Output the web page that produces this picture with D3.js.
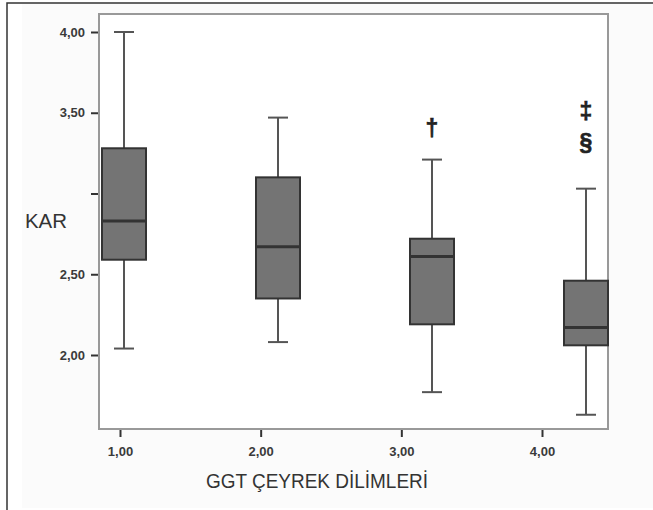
<html>
<head>
  <script src="https://cdn.jsdelivr.net/npm/d3@7"></script>
  <meta charset="UTF-8">
  <style>
  body {
    margin: 0;
    background: #fff;
    font-family: "Liberation Sans", Arial, sans-serif;
  }
  </style>
</head>
<body>
<div id="chart"></div>
<script>

// group labels (GGT quartiles) and box statistics for KAR
const categories = ['1,00', '2,00', '3,00', '4,00'];
const groups = [1, 2, 3, 4];
const whiskerLow = [2.04, 2.08, 1.77, 1.63];
const q1 = [2.59, 2.35, 2.19, 2.06];
const median = [2.83, 2.67, 2.61, 2.17];
const q3 = [3.28, 3.10, 2.72, 2.46];
const whiskerHigh = [4.00, 3.47, 3.21, 3.03];
const marks = [[], [], ['†'], ['‡', '§']];
const yTicks = [2.00, 2.50, 3.00, 3.50, 4.00];
const yTickLabels = ['2,00', '2,50', '', '3,50', '4,00'];

const width = 653, height = 510;
const frame = {left: 99, right: 608, top: 14, bottom: 429};

const svg = d3.select('#chart').append('svg')
  .attr('width', width)
  .attr('height', height);

// outer border + faint panel
svg.append('rect')
  .attr('x', 22).attr('y', 4)
  .attr('width', width - 22).attr('height', 504)
  .attr('fill', '#fbfbfb');
svg.append('rect')
  .attr('x', 7).attr('y', 3)
  .attr('width', width + 5).attr('height', height + 5)
  .attr('fill', 'none')
  .attr('stroke', '#333')
  .attr('stroke-width', 1.5);

const y = d3.scaleLinear()
  .domain([4 + 18 / 161.5, 2 - 74 / 161.5])
  .range([frame.top, frame.bottom]);

// axis ticks and boxes sit on slightly different spacings in the original figure
const xAxisScale = d3.scaleLinear().domain([1, 4]).range([120, 542]);
const xBox = d3.scaleLinear().domain([1, 4]).range([124, 586]);
const boxW = 44, capW = 20;

// plot frame
svg.append('rect')
  .attr('x', frame.left).attr('y', frame.top)
  .attr('width', frame.right - frame.left)
  .attr('height', frame.bottom - frame.top)
  .attr('fill', '#fff')
  .attr('stroke', '#999')
  .attr('stroke-width', 2);

// y axis
const yAxis = svg.append('g')
  .attr('transform', `translate(${frame.left - 1},0)`)
  .call(d3.axisLeft(y).tickValues(yTicks).tickSize(7).tickPadding(6)
    .tickFormat((d, i) => yTickLabels[i]));
yAxis.select('.domain').remove();
yAxis.selectAll('.tick line').attr('stroke', '#333').attr('stroke-width', 2);
yAxis.selectAll('.tick text')
  .attr('fill', '#3a3a3a')
  .style('font-size', '13px')
  .style('font-weight', 'bold');

// x axis
const xAxis = svg.append('g')
  .attr('transform', `translate(0,${frame.bottom + 1})`)
  .call(d3.axisBottom(xAxisScale).tickValues(groups).tickSize(7).tickPadding(10)
    .tickFormat((d, i) => categories[i]));
xAxis.select('.domain').remove();
xAxis.selectAll('.tick line').attr('stroke', '#333').attr('stroke-width', 2);
xAxis.selectAll('.tick text')
  .attr('fill', '#3a3a3a')
  .style('font-size', '13px')
  .style('font-weight', 'bold');

// boxes
const boxes = svg.append('g').selectAll('g')
  .data(groups)
  .join('g');

boxes.append('line')
  .attr('x1', (d) => xBox(d)).attr('x2', (d) => xBox(d))
  .attr('y1', (d, i) => y(whiskerHigh[i]))
  .attr('y2', (d, i) => y(whiskerLow[i]))
  .attr('stroke', '#555').attr('stroke-width', 2);

for (const arr of [whiskerHigh, whiskerLow]) {
  boxes.append('line')
    .attr('x1', (d) => xBox(d) - capW / 2).attr('x2', (d) => xBox(d) + capW / 2)
    .attr('y1', (d, i) => y(arr[i])).attr('y2', (d, i) => y(arr[i]))
    .attr('stroke', '#555').attr('stroke-width', 2);
}

boxes.append('rect')
  .attr('x', (d) => xBox(d) - boxW / 2)
  .attr('y', (d, i) => y(q3[i]))
  .attr('width', boxW)
  .attr('height', (d, i) => y(q1[i]) - y(q3[i]))
  .attr('fill', '#747474')
  .attr('stroke', '#333')
  .attr('stroke-width', 2);

boxes.append('line')
  .attr('x1', (d) => xBox(d) - boxW / 2 + 1).attr('x2', (d) => xBox(d) + boxW / 2 - 1)
  .attr('y1', (d, i) => y(median[i])).attr('y2', (d, i) => y(median[i]))
  .attr('stroke', '#333').attr('stroke-width', 3);

// significance marks above the upper whisker
boxes.each(function(d, i) {
  const n = marks[i].length;
  const base = y(whiskerHigh[i]) - 30 - 15 * (n - 1);
  d3.select(this).selectAll('text.mark')
    .data(marks[i])
    .join('text')
      .attr('class', 'mark')
      .attr('x', xBox(d))
      .attr('y', (m, j) => base - 31 * (n - 1 - j))
      .attr('text-anchor', 'middle')
      .attr('dominant-baseline', 'middle')
      .attr('fill', '#222')
      .attr('stroke', '#222')
      .attr('stroke-width', 0.6)
      .style('font-size', '23px')
      .style('font-weight', 'bold')
      .text((m) => m);
});

// axis titles
svg.append('text')
  .attr('x', 25).attr('y', 228)
  .attr('fill', '#333')
  .style('font-size', '20px')
  .attr('textLength', 42)
  .attr('lengthAdjust', 'spacingAndGlyphs')
  .text('KAR');

svg.append('text')
  .attr('x', 206).attr('y', 488)
  .attr('fill', '#333')
  .style('font-size', '21px')
  .attr('textLength', 222)
  .attr('lengthAdjust', 'spacingAndGlyphs')
  .text('GGT ÇEYREK DİLİMLERİ');

</script>
</body>
</html>
